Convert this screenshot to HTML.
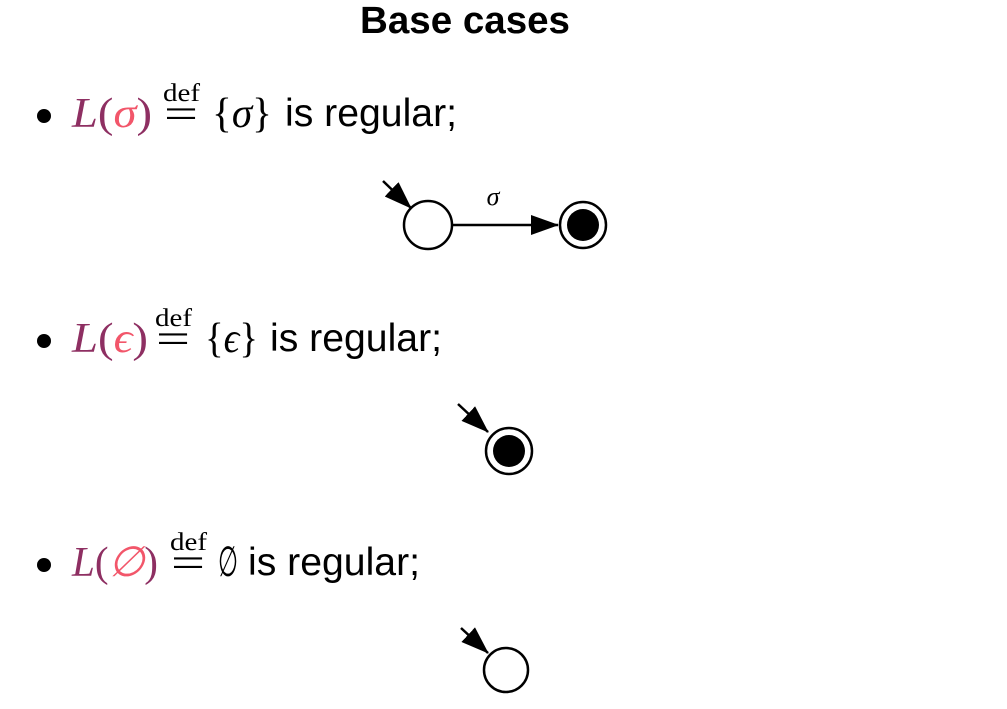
<!DOCTYPE html>
<html><head><meta charset="utf-8"><style>
html,body{margin:0;padding:0;background:#fff;width:1007px;height:709px;overflow:hidden}
svg{display:block}
.t{font-family:"Liberation Sans",sans-serif;font-size:39px;fill:#000}
.m{font-family:"Liberation Serif","DejaVu Serif",serif;font-size:42px}
.L{fill:#8e2f62;font-style:italic}
.p{fill:#8e2f62}
.s{fill:#f2566a;font-style:italic}
.k{fill:#000}
.def{font-family:"Liberation Serif",serif;font-size:25px;fill:#000}
</style></head><body>
<svg width="1007" height="709" viewBox="0 0 1007 709">
<defs>
<marker id="ah2" markerWidth="28" markerHeight="20" refX="27" refY="10" orient="auto" markerUnits="userSpaceOnUse">
<path d="M0,0 L28,10 L0,20 z" fill="#000"/></marker>
</defs>
<text x="465" y="33" text-anchor="middle" font-family="Liberation Sans,sans-serif" font-weight="bold" font-size="38" textLength="210" lengthAdjust="spacingAndGlyphs">Base cases</text>

<!-- bullet 1 -->
<g>
<circle cx="44" cy="116" r="7" fill="#000"/>
<text x="72" y="127" class="m" textLength="80" lengthAdjust="spacingAndGlyphs"><tspan class="L">L</tspan><tspan class="p">(</tspan><tspan class="s">σ</tspan><tspan class="p">)</tspan></text>
<text x="163" y="101" class="def" textLength="37" lengthAdjust="spacingAndGlyphs">def</text>
<text x="164" y="128" class="m k" textLength="34" lengthAdjust="spacingAndGlyphs">=</text>
<text x="212" y="127" class="m k" textLength="60" lengthAdjust="spacingAndGlyphs">{<tspan font-style="italic">σ</tspan>}</text>
<text x="285" y="126" class="t" textLength="172" lengthAdjust="spacingAndGlyphs">is regular;</text>
</g>
<g>
<line x1="383" y1="181" x2="411" y2="208" stroke="#000" stroke-width="2.5" marker-end="url(#ah2)"/>
<circle cx="428" cy="225" r="24" fill="#fff" stroke="#000" stroke-width="2.5"/>
<line x1="452" y1="225" x2="558" y2="225" stroke="#000" stroke-width="2.5" marker-end="url(#ah2)"/>
<text x="493" y="205" text-anchor="middle" font-family="Liberation Serif,serif" font-style="italic" font-size="26">σ</text>
<circle cx="583" cy="225" r="23" fill="#fff" stroke="#000" stroke-width="2.5"/>
<circle cx="583" cy="225" r="16" fill="#000"/>
</g>

<!-- bullet 2 -->
<g>
<circle cx="44" cy="341" r="7" fill="#000"/>
<text x="72" y="352" class="m" textLength="76" lengthAdjust="spacingAndGlyphs"><tspan class="L">L</tspan><tspan class="p">(</tspan><tspan class="s">ϵ</tspan><tspan class="p">)</tspan></text>
<text x="155" y="326" class="def" textLength="37" lengthAdjust="spacingAndGlyphs">def</text>
<text x="156" y="353" class="m k" textLength="34" lengthAdjust="spacingAndGlyphs">=</text>
<text x="205" y="352" class="m k" textLength="53" lengthAdjust="spacingAndGlyphs">{<tspan font-style="italic">ϵ</tspan>}</text>
<text x="270" y="351" class="t" textLength="172" lengthAdjust="spacingAndGlyphs">is regular;</text>
</g>
<g>
<line x1="458" y1="404" x2="488" y2="432" stroke="#000" stroke-width="2.5" marker-end="url(#ah2)"/>
<circle cx="509" cy="451" r="23" fill="#fff" stroke="#000" stroke-width="2.5"/>
<circle cx="509" cy="451" r="16" fill="#000"/>
</g>

<!-- bullet 3 -->
<g>
<circle cx="44" cy="565" r="7" fill="#000"/>
<text x="72" y="576" class="m" textLength="86" lengthAdjust="spacingAndGlyphs"><tspan class="L">L</tspan><tspan class="p">(</tspan><tspan class="s" font-style="normal">∅</tspan><tspan class="p">)</tspan></text>
<text x="170" y="550" class="def" textLength="37" lengthAdjust="spacingAndGlyphs">def</text>
<text x="171" y="577" class="m k" textLength="34" lengthAdjust="spacingAndGlyphs">=</text>
<text x="218" y="576" class="m k" textLength="20" lengthAdjust="spacingAndGlyphs">∅</text>
<text x="248" y="575" class="t" textLength="172" lengthAdjust="spacingAndGlyphs">is regular;</text>
</g>
<g>
<line x1="461" y1="628" x2="488" y2="653" stroke="#000" stroke-width="2.5" marker-end="url(#ah2)"/>
<circle cx="506" cy="670" r="22" fill="#fff" stroke="#000" stroke-width="2.5"/>
</g>
</svg>
</body></html>
